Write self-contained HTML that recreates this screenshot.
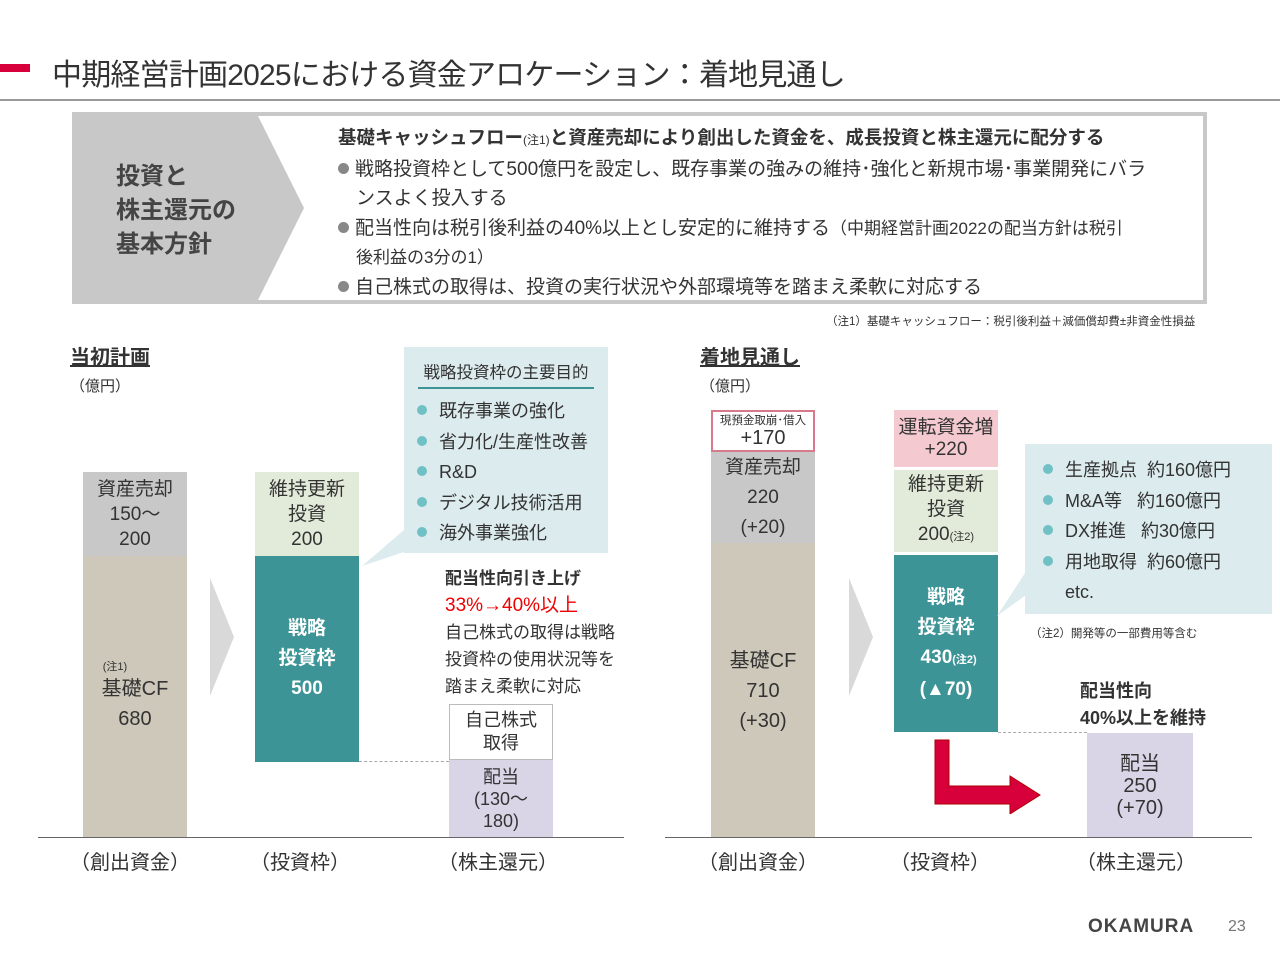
<!DOCTYPE html>
<html><head><meta charset="utf-8"><style>
body{margin:0;width:1280px;height:960px;background:#fff;position:relative;overflow:hidden;font-family:"Liberation Sans","Noto Sans CJK JP",sans-serif;color:#333}
.a{position:absolute}
.c{display:flex;flex-direction:column;align-items:center;justify-content:center;text-align:center}
.bullet::before{content:"";display:inline-block;width:11px;height:11px;border-radius:50%;background:#888;margin-right:6px;vertical-align:1px}
.tb::before{content:"";display:inline-block;width:10px;height:10px;border-radius:50%;background:#6fc1c5;margin-right:12px;vertical-align:2px}
</style></head><body>
<div class="a" style="left:0;top:64px;width:30px;height:8px;background:#d7003a"></div>
<div class="a" style="left:52px;top:50px;font-size:30px;color:#333;letter-spacing:-0.8px">中期経営計画2025における資金アロケーション：着地見通し</div>
<div class="a" style="left:0;top:99px;width:1280px;height:2px;background:#999"></div>

<div class="a" style="left:72px;top:112px;width:1135px;height:192px;background:#c8c8c8"></div>
<div class="a" style="left:76px;top:116px;width:1127px;height:184px;background:#fff"></div>
<svg class="a" style="left:76px;top:116px" width="230" height="184"><polygon points="0,0 182,0 228,92 182,184 0,184" fill="#c8c8c8"/></svg>
<div class="a" style="left:116px;top:160px;font-size:24px;font-weight:bold;line-height:34px;color:#444">投資と<br>株主還元の<br>基本方針</div>
<div class="a" style="left:338px;top:124px;font-size:18.5px;font-weight:bold;color:#333">基礎キャッシュフロー<span style="font-size:12px;font-weight:normal">(注1)</span>と資産売却により創出した資金を、成長投資と株主還元に配分する</div>
<div class="a" style="left:338px;top:155px;font-size:19px;line-height:29px;width:860px"><div class="bullet">戦略投資枠として500億円を設定し、既存事業の強みの維持･強化と新規市場･事業開発にバラ</div><div style="padding-left:18px">ンスよく投入する</div></div>
<div class="a" style="left:338px;top:214px;font-size:19px;line-height:29px;width:860px"><div class="bullet">配当性向は税引後利益の40%以上とし安定的に維持する<span style="font-size:17px">（中期経営計画2022の配当方針は税引</span></div><div style="padding-left:18px;font-size:17px">後利益の3分の1）</div></div>
<div class="a bullet" style="left:338px;top:272px;font-size:19px">自己株式の取得は、投資の実行状況や外部環境等を踏まえ柔軟に対応する</div>
<div class="a" style="left:826px;top:313px;font-size:11.5px">（注1）基礎キャッシュフロー：税引後利益＋減価償却費±非資金性損益</div>

<!-- left chart -->
<div class="a" style="left:70px;top:341px;font-size:20px;font-weight:bold;text-decoration:underline">当初計画</div>
<div class="a" style="left:70px;top:375px;font-size:15px">（億円）</div>
<div class="a c" style="left:83px;top:472px;width:104px;height:84px;background:#c8c8c8;font-size:19px;line-height:25px">資産売却<br>150～<br>200</div>
<div class="a c" style="left:83px;top:556px;width:104px;height:282px;background:#cdc8b9;font-size:20px;line-height:30px"><span style="font-size:11px;line-height:14px;margin-left:-40px">(注1)</span>基礎CF<br>680</div>
<svg class="a" style="left:210px;top:578px" width="26" height="118"><polygon points="0,0 24,59 0,118" fill="#d9d9d9"/></svg>
<div class="a c" style="left:255px;top:472px;width:104px;height:84px;background:#e2ebd9;font-size:19px;line-height:25px">維持更新<br>投資<br>200</div>
<div class="a c" style="left:255px;top:556px;width:104px;height:206px;background:#3d9497;color:#fff;font-weight:bold;font-size:19px;line-height:30px">戦略<br>投資枠<br>500</div>
<div class="a" style="left:359px;top:761px;width:90px;border-top:1px dashed #aaa"></div>
<svg class="a" style="left:360px;top:530px" width="50" height="40"><polygon points="44,0 50,20 2,36" fill="#dcebee"/></svg>
<div class="a" style="left:404px;top:347px;width:204px;height:206px;background:#dcebee"></div>
<div class="a" style="left:418px;top:359px;font-size:16.5px;width:176px;text-align:center;padding-bottom:4px;border-bottom:2px solid #3d9497">戦略投資枠の主要目的</div>
<div class="a" style="left:417px;top:396px;font-size:18px;line-height:30.5px"><div class="tb">既存事業の強化</div><div class="tb">省力化/生産性改善</div><div class="tb">R&amp;D</div><div class="tb">デジタル技術活用</div><div class="tb">海外事業強化</div></div>
<div class="a" style="left:445px;top:565px;font-size:17px;line-height:27px"><b>配当性向引き上げ</b><br><span style="color:#e00;font-size:19px">33%→40%以上</span><br>自己株式の取得は戦略<br>投資枠の使用状況等を<br>踏まえ柔軟に対応</div>
<div class="a c" style="left:449px;top:704px;width:102px;height:54px;border:1px solid #bbb;font-size:18px;line-height:23px">自己株式<br>取得</div>
<div class="a c" style="left:449px;top:760px;width:104px;height:78px;background:#d9d4e6;font-size:18px;line-height:22px">配当<br>(130～<br>180)</div>
<div class="a" style="left:38px;top:837px;width:586px;height:1px;background:#666"></div>
<div class="a" style="left:70px;top:846px;font-size:20px">（創出資金）</div>
<div class="a" style="left:250px;top:846px;font-size:20px">（投資枠）</div>
<div class="a" style="left:438px;top:846px;font-size:20px">（株主還元）</div>

<!-- right chart -->
<div class="a" style="left:700px;top:341px;font-size:20px;font-weight:bold;text-decoration:underline">着地見通し</div>
<div class="a" style="left:700px;top:375px;font-size:15px">（億円）</div>
<div class="a c" style="left:711px;top:410px;width:100px;height:38px;border:2px solid #d77a8c;font-size:20px;line-height:20px"><span style="font-size:11.5px;line-height:14px">現預金取崩･借入</span>+170</div>
<div class="a c" style="left:711px;top:452px;width:104px;height:91px;background:#c8c8c8;font-size:19px;line-height:30px">資産売却<br>220<br>(+20)</div>
<div class="a c" style="left:711px;top:543px;width:104px;height:295px;background:#cdc8b9;font-size:20px;line-height:30px">基礎CF<br>710<br>(+30)</div>
<svg class="a" style="left:849px;top:578px" width="26" height="118"><polygon points="0,0 24,59 0,118" fill="#d9d9d9"/></svg>
<div class="a c" style="left:894px;top:410px;width:104px;height:57px;background:#f4c9d0;font-size:19px;line-height:22px">運転資金増<br>+220</div>
<div class="a c" style="left:894px;top:470px;width:104px;height:82px;background:#e2ebd9;font-size:19px;line-height:25px">維持更新<br>投資<br><span>200<span style="font-size:11px">(注2)</span></span></div>
<div class="a c" style="left:894px;top:555px;width:104px;height:177px;background:#3d9497;color:#fff;font-weight:bold;font-size:19px;line-height:30px">戦略<br>投資枠<br><span>&nbsp;430<span style="font-size:11px">(注2)</span></span>(▲70)</div>
<div class="a" style="left:998px;top:732px;width:89px;border-top:1px dashed #aaa"></div>
<svg class="a" style="left:995px;top:570px" width="40" height="50"><polygon points="32,0 38,20 2,46" fill="#dcebee"/></svg>
<div class="a" style="left:1025px;top:444px;width:247px;height:170px;background:#dcebee"></div>
<div class="a" style="left:1043px;top:455px;font-size:18px;line-height:30.5px"><div class="tb">生産拠点&nbsp; 約160億円</div><div class="tb">M&amp;A等&nbsp;&nbsp; 約160億円</div><div class="tb">DX推進&nbsp;&nbsp; 約30億円</div><div class="tb">用地取得&nbsp; 約60億円</div><div style="padding-left:22px">etc.</div></div>
<div class="a" style="left:1030px;top:625px;font-size:11.5px">（注2）開発等の一部費用等含む</div>
<div class="a" style="left:1080px;top:678px;font-size:18px;font-weight:bold;line-height:27px">配当性向<br>40%以上を維持</div>
<svg class="a" style="left:930px;top:738px" width="116" height="76"><polygon points="5,2 19,2 19,48 80,48 80,38 110,57 80,76 80,66 5,66" fill="#d7003a" stroke="#a00" stroke-width="1"/></svg>
<div class="a c" style="left:1087px;top:733px;width:106px;height:105px;background:#d9d4e6;font-size:20px;line-height:22px">配当<br>250<br>(+70)</div>
<div class="a" style="left:665px;top:837px;width:587px;height:1px;background:#666"></div>
<div class="a" style="left:698px;top:846px;font-size:20px">（創出資金）</div>
<div class="a" style="left:890px;top:846px;font-size:20px">（投資枠）</div>
<div class="a" style="left:1076px;top:846px;font-size:20px">（株主還元）</div>

<div class="a" style="left:1088px;top:916px;font-size:19px;font-weight:bold;letter-spacing:1px;color:#444">OKAMURA</div>
<div class="a" style="left:1228px;top:918px;font-size:16px;color:#777">23</div>
</body></html>
